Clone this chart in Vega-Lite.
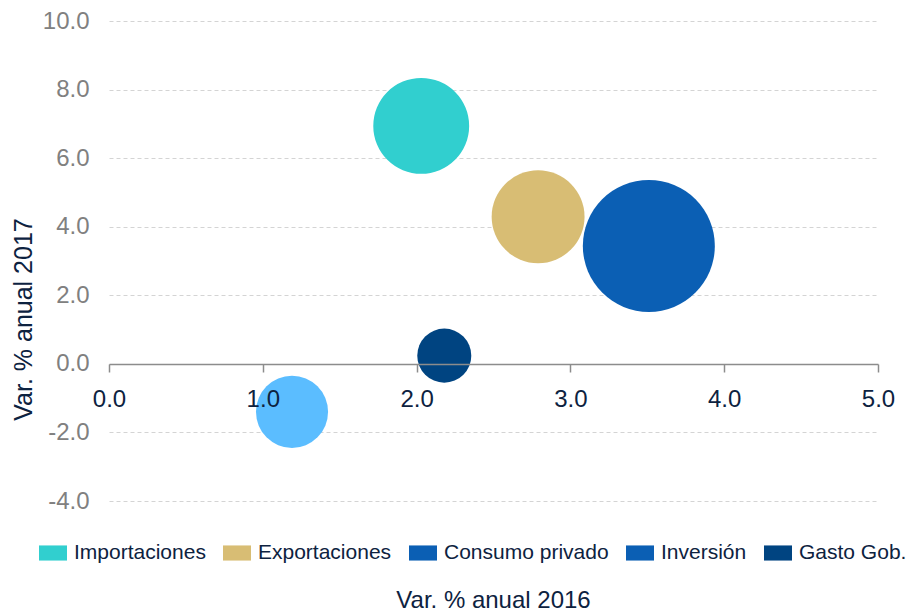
{
  "$schema": "https://vega.github.io/schema/vega-lite/v6.json",
  "width": 769,
  "height": 480,
  "autosize": {"type": "none"},
  "padding": {"left": 109, "top": 21, "right": 28, "bottom": 111},
  "background": "white",
  "config": {
    "font": "Liberation Sans, Arial, sans-serif",
    "view": {"stroke": null}
  },
  "title": {
    "text": "Var. % anual 2016",
    "orient": "bottom",
    "anchor": "middle",
    "fontSize": 24,
    "fontWeight": "normal",
    "color": "#0d2240",
    "offset": 26
  },
  "data": {
    "values": [
      {"serie": "Importaciones", "var2016": 2.03, "var2017": 6.94, "peso": 23.0},
      {"serie": "Exportaciones", "var2016": 2.79, "var2017": 4.29, "peso": 21.6},
      {"serie": "Consumo privado", "var2016": 3.51, "var2017": 3.44, "peso": 43.6},
      {"serie": "Inversión", "var2016": 1.19, "var2017": -1.40, "peso": 13.0},
      {"serie": "Gasto Gob.", "var2016": 2.18, "var2017": 0.24, "peso": 7.3}
    ]
  },
  "encoding": {
    "x": {
      "field": "var2016",
      "type": "quantitative",
      "scale": {"domain": [0, 5], "nice": false, "zero": false},
      "axis": {
        "orient": "bottom",
        "offset": -137,
        "zindex": 2,
        "values": [0, 1, 2, 3, 4, 5],
        "format": ".1f",
        "grid": false,
        "domainColor": "#8c8c8c",
        "domainWidth": 1.5,
        "tickColor": "#8c8c8c",
        "tickWidth": 1.5,
        "tickSize": 8,
        "labelColor": "#0d2240",
        "labelFontSize": 24,
        "labelPadding": 15,
        "labelFlush": false,
        "labelOverlap": false,
        "title": null
      }
    },
    "y": {
      "field": "var2017",
      "type": "quantitative",
      "scale": {"domain": [-4, 10], "nice": false, "zero": false},
      "axis": {
        "values": [-4, -2, 0, 2, 4, 6, 8, 10],
        "labelExpr": "replace(format(datum.value, '.1f'), '\u2212', '-')",
        "grid": true,
        "gridColor": "#d4d4d4",
        "gridDash": [4, 3],
        "gridWidth": 1,
        "domain": false,
        "ticks": false,
        "labelColor": "#808080",
        "labelFontSize": 24,
        "labelPadding": 20,
        "labelOverlap": false,
        "title": "Var. % anual 2017",
        "titleColor": "#0d2240",
        "titleFontSize": 25,
        "titleFontWeight": "normal",
        "titleX": -86,
        "titleY": 298,
        "titleAngle": -90,
        "titleAlign": "center",
        "titleBaseline": "middle"
      }
    }
  },
  "layer": [
    {
      "mark": {"type": "circle", "opacity": 1},
      "encoding": {
        "size": {
          "field": "peso",
          "type": "quantitative",
          "scale": {"domain": [0, 43.6], "range": [0, 17424], "zero": true},
          "legend": null
        },
        "color": {
          "field": "serie",
          "type": "nominal",
          "sort": null,
          "scale": {
            "domain": ["Importaciones", "Exportaciones", "Consumo privado", "Inversión", "Gasto Gob."],
            "range": ["#31cfcf", "#d8bd74", "#0b5fb4", "#5bbdff", "#004481"]
          },
          "legend": null
        }
      }
    },
    {
      "mark": {"type": "circle", "opacity": 0},
      "encoding": {
        "color": {
          "field": "serie",
          "type": "nominal",
          "sort": null,
          "scale": {
            "domain": ["Importaciones", "Exportaciones", "Consumo privado", "Inversión", "Gasto Gob."],
            "range": ["#31cfcf", "#d8bd74", "#0b5fb4", "#0b5fb4", "#004481"]
          },
          "legend": {
            "orient": "none",
            "legendX": -70,
            "legendY": 518,
            "padding": 0,
            "direction": "horizontal",
            "title": null,
            "symbolType": "M-1,-0.54H1V0.54H-1Z",
            "symbolSize": 784,
            "symbolOpacity": 1,
            "symbolStrokeWidth": 0,
            "labelFontSize": 21,
            "labelColor": "#0d2240",
            "labelOffset": 7,
            "columnPadding": 17,
            "labelLimit": 300
          }
        }
      }
    }
  ],
  "resolve": {"scale": {"color": "independent"}, "legend": {"color": "independent"}}
}
